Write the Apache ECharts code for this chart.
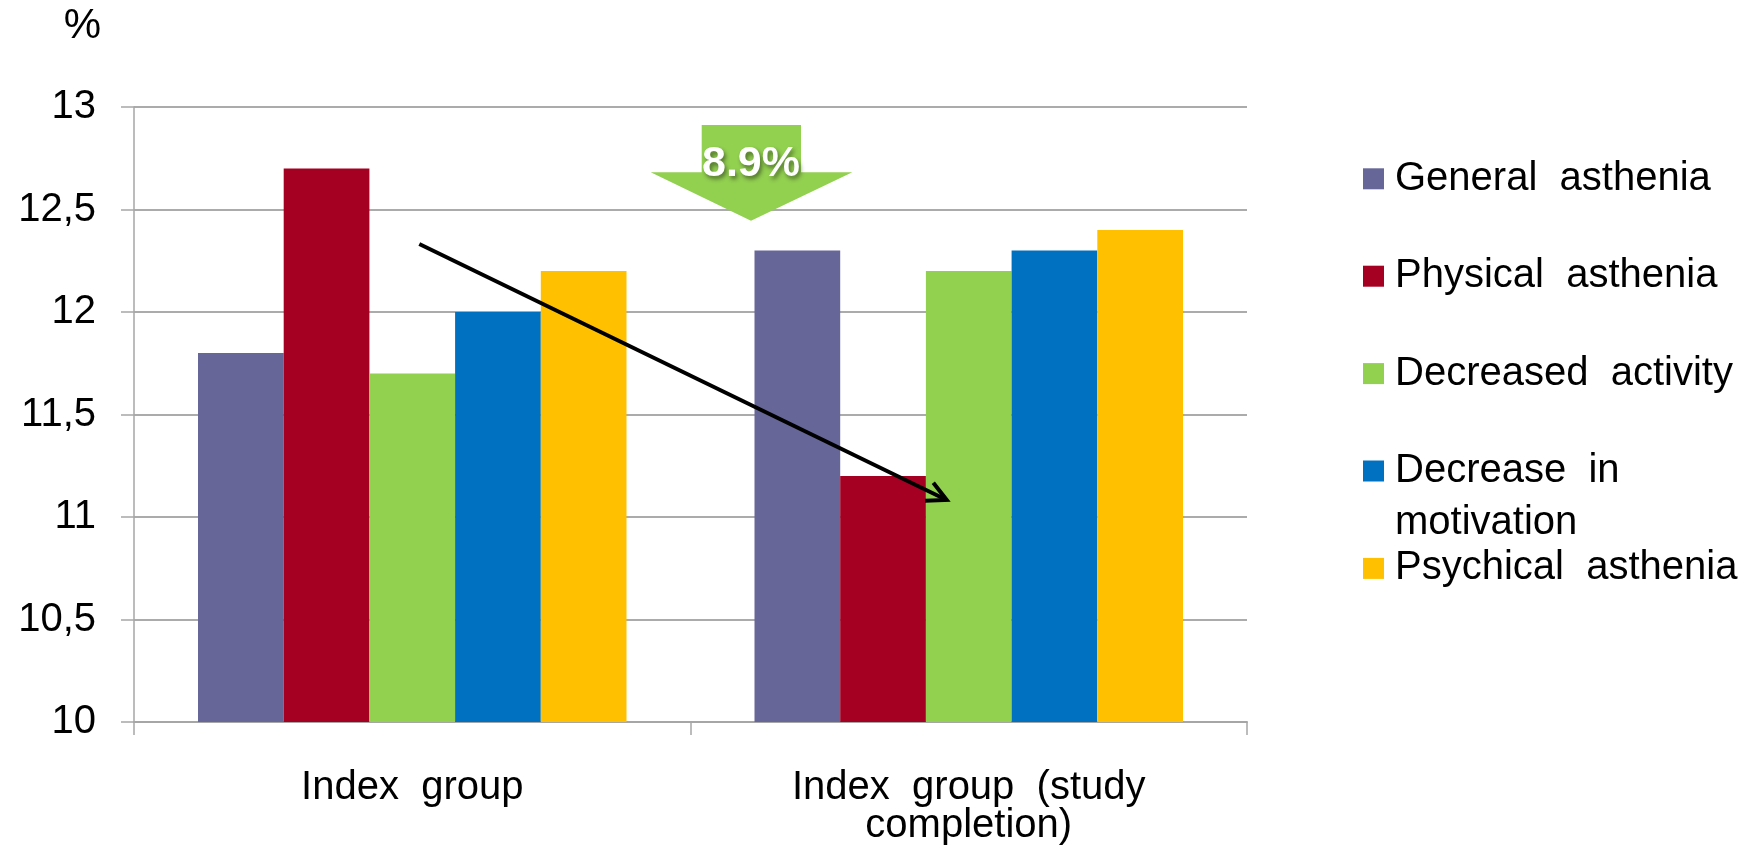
<!DOCTYPE html>
<html><head><meta charset="utf-8">
<script src="https://cdn.jsdelivr.net/npm/echarts@6/dist/echarts.min.js"></script>
<style>html,body{margin:0;padding:0;background:#fff}#c{width:1747px;height:858px}</style>
</head><body><div id="c"></div>
<script>
// ---- data ----
const categories = ['Index group', 'Index group (study\ncompletion)'];
const seriesNames = ['General asthenia', 'Physical asthenia', 'Decreased activity', 'Decrease in motivation', 'Psychical asthenia'];
const generalAsthenia = [11.8, 12.3];
const physicalAsthenia = [12.7, 11.2];
const decreasedActivity = [11.7, 12.2];
const decreaseInMotivation = [12.0, 12.3];
const psychicalAsthenia = [12.2, 12.4];
const yTicks = [10, 10.5, 11, 11.5, 12, 12.5, 13];
const yUnit = '%';
const changeLabel = '8.9%';

// ---- styles ----
const FONT = "'Liberation Sans', Arial, Helvetica, sans-serif";
const colors = ['#666699', '#A50021', '#92D050', '#0070C0', '#FFC000'];
const seriesValues = [generalAsthenia, physicalAsthenia, decreasedActivity, decreaseInMotivation, psychicalAsthenia];
const wide = s => s.replace(/ /g, '  '); // justified-looking word spacing

const chart = echarts.init(document.getElementById('c'), null, {renderer: 'canvas'});

const legendFirstCenter = 178.8, legendStep = 97.4, LH = 40, LH2 = 52;
const legends = seriesNames.map((name, i) => {
  const c = legendFirstCenter + legendStep * i;
  const multi = name === 'Decrease in motivation';
  return {
    data: [name],
    orient: 'vertical',
    left: 1363,
    top: multi ? c - 1.5 * LH2 : c - LH / 2,
    padding: 0,
    icon: 'rect',
    itemWidth: 21,
    itemHeight: 21,
    selectedMode: false,
    formatter: n => n === 'Decrease in motivation' ? ' \n' + wide('Decrease in') + '\nmotivation' : wide(n),
    textStyle: {
      fontFamily: FONT, fontSize: 40, color: '#000',
      lineHeight: multi ? LH2 : LH,
      padding: [0, 0, 0, 6]
    }
  };
});

const option = {
  backgroundColor: '#fff',
  animation: false,
  color: colors,
  grid: {left: 134, right: 500, top: 107, bottom: 136, containLabel: false},
  legend: legends,
  xAxis: {
    type: 'category',
    data: categories,
    boundaryGap: true,
    axisLine: {show: true, lineStyle: {color: '#a6a6a6', width: 2}},
    axisTick: {show: true, length: 13, lineStyle: {color: '#a6a6a6', width: 1.5}},
    axisLabel: {fontFamily: FONT, fontSize: 40, color: '#000', lineHeight: 38, margin: 47, formatter: v => wide(v)},
    splitLine: {show: false}
  },
  yAxis: {
    type: 'value',
    min: yTicks[0],
    max: yTicks[yTicks.length - 1],
    interval: 0.5,
    name: yUnit,
    nameLocation: 'end',
    nameGap: 81,
    nameTextStyle: {fontFamily: FONT, fontSize: 42, color: '#000', align: 'right', verticalAlign: 'middle', padding: [0, 33, 0, 0]},
    axisLine: {show: true, lineStyle: {color: '#a6a6a6', width: 1.5}},
    axisTick: {show: true, length: 13, lineStyle: {color: '#a6a6a6', width: 1.5}},
    axisLabel: {fontFamily: FONT, fontSize: 40, color: '#000', margin: 38,
      formatter: v => String(v).replace('.', ',')},
    splitLine: {show: true, lineStyle: {color: '#ababab', width: 2}}
  },
  series: seriesNames.map((name, i) => ({
    name: name,
    type: 'bar',
    data: seriesValues[i],
    barGap: 0,
    barCategoryGap: '23%',
    itemStyle: {color: colors[i]},
    z: 2
  })),
  graphic: [
    {
      type: 'polygon',
      z: 10,
      shape: {points: [[701.7, 125], [801, 125], [801, 172.3], [852.3, 172.3], [751, 220.7], [650.7, 172.3], [701.7, 172.3]]},
      style: {fill: '#92D050'}
    },
    {
      type: 'text',
      z: 11,
      x: 751, y: 164,
      style: {
        text: changeLabel, fill: '#fff', fontFamily: FONT, fontWeight: 'bold', fontSize: 43,
        align: 'center', verticalAlign: 'middle',
        textShadowColor: 'rgba(0,0,0,0.45)', textShadowBlur: 4, textShadowOffsetX: 2, textShadowOffsetY: 3
      }
    },
    {
      type: 'polyline',
      z: 12,
      shape: {points: [[419.3, 244], [946.7, 500]]},
      style: {stroke: '#000', lineWidth: 4, lineCap: 'butt'}
    },
    {
      type: 'polyline',
      z: 12,
      shape: {points: [[933.3, 482.7], [946.7, 500], [925, 500.7]]},
      style: {stroke: '#000', lineWidth: 4, fill: null, lineJoin: 'miter', lineCap: 'butt'}
    }
  ]
};
chart.setOption(option);
</script>
</body></html>
